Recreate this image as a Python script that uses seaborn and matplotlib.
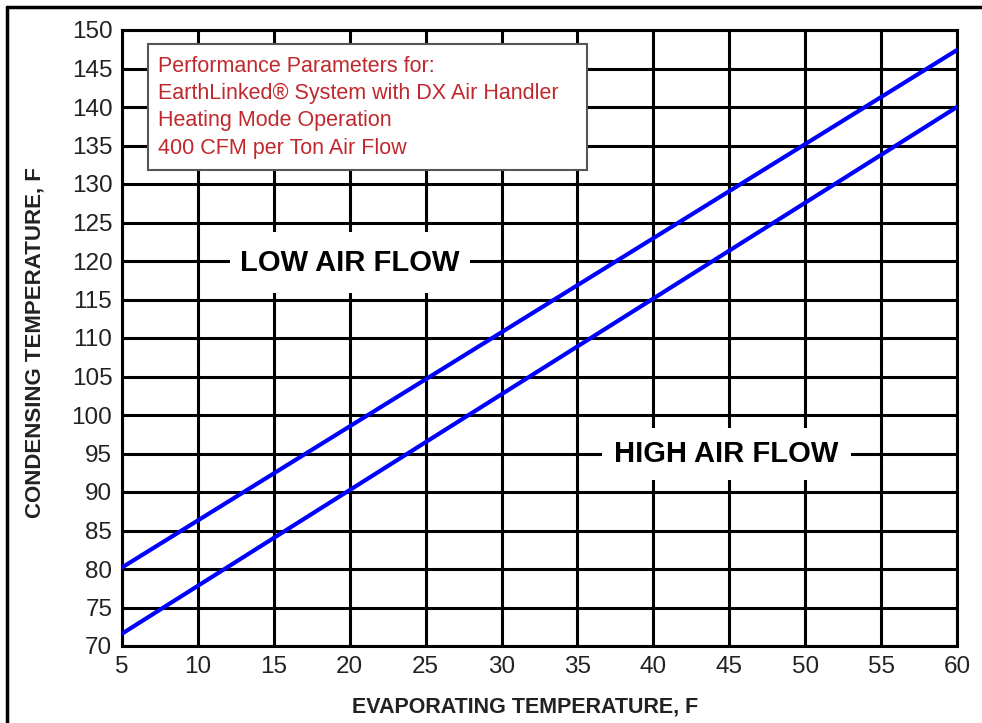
import matplotlib
matplotlib.use("Agg")
import matplotlib.pyplot as plt
import seaborn as sns
import pandas as pd
from matplotlib.patches import Rectangle
from matplotlib.lines import Line2D

# Data
evap_temp = [5, 60]
low_air_flow = [80.2, 147.4]
high_air_flow = [71.6, 140.0]
x_ticks = list(range(5, 61, 5))
y_ticks = list(range(70, 151, 5))
box_lines = ["Performance Parameters for:",
             "EarthLinked\u00ae System with DX Air Handler",
             "Heating Mode Operation",
             "400 CFM per Ton Air Flow"]
curve_labels = ["LOW AIR FLOW", "HIGH AIR FLOW"]
label_pos = [(20, 119.8), (44.8, 94.9)]
label_half = [(7.9, 4.0), (8.2, 3.4)]

df = pd.concat([
    pd.DataFrame({"evap": evap_temp, "cond": low_air_flow, "series": "LOW AIR FLOW"}),
    pd.DataFrame({"evap": evap_temp, "cond": high_air_flow, "series": "HIGH AIR FLOW"}),
])

sns.set_theme(style="white")
plt.rcParams['font.family'] = ['Liberation Sans', 'DejaVu Sans']

fig = plt.figure(figsize=(9.82, 7.23), dpi=100)
ax = fig.add_axes([122/982, 1-646/723, (957-122)/982, (646-30)/723])

for v in x_ticks:
    ax.axvline(v, color="black", lw=2.2, zorder=1)
for v in y_ticks:
    ax.axhline(v, color="black", lw=2.2, zorder=1)

sns.lineplot(data=df, x="evap", y="cond", hue="series",
             palette={"LOW AIR FLOW": "#0000ff", "HIGH AIR FLOW": "#0000ff"},
             lw=3.0, legend=False, ax=ax, zorder=3)

ax.set_xlim(5, 60)
ax.set_ylim(70, 150)
ax.set_xticks(x_ticks)
ax.set_yticks(y_ticks)
ax.tick_params(axis="both", labelsize=17.5, length=0, pad=7, colors="#222222")
for s in ax.spines.values():
    s.set_color("black")
    s.set_linewidth(2.2)

ax.set_xlabel("EVAPORATING TEMPERATURE, F", fontsize=15.5, fontweight="bold",
              color="#222222")
ax.set_ylabel("CONDENSING TEMPERATURE, F", fontsize=16, fontweight="bold",
              color="#222222")
ax.xaxis.set_label_coords((525-122)/(957-122), -(707-646)/(646-30), transform=ax.transAxes)
ax.xaxis.label.set_va("center")
ax.yaxis.set_label_coords(-(122-35)/(957-122), (646-343)/(646-30), transform=ax.transAxes)
ax.yaxis.label.set_va("center")

# Info box
ax.add_patch(Rectangle((6.7, 131.8), 28.9, 16.4, facecolor="white",
                       edgecolor="#555555", lw=1.5, zorder=4))
for i, t in enumerate(box_lines):
    ax.text(7.35, 145.3 - i * 3.55, t, fontsize=15.5, color="#c0282d",
            va="center", ha="left", zorder=5)

# Curve labels with white knockout boxes
for lab, (cx, cy), (hw, hh) in zip(curve_labels, label_pos, label_half):
    ax.add_patch(Rectangle((cx - hw, cy - hh), 2 * hw, 2 * hh, facecolor="white",
                           edgecolor="none", zorder=4))
    ax.text(cx, cy, lab, fontsize=21, fontweight="bold", color="black",
            ha="center", va="center", zorder=5)

# Outer frame (left & top)
fig.add_artist(Line2D([7/982, 7/982], [0, 1-7/723], transform=fig.transFigure,
                      color="black", lw=2.5))
fig.add_artist(Line2D([7/982, 1], [1-7/723, 1-7/723], transform=fig.transFigure,
                      color="black", lw=2.5))

fig.savefig("out.png", dpi=100)
